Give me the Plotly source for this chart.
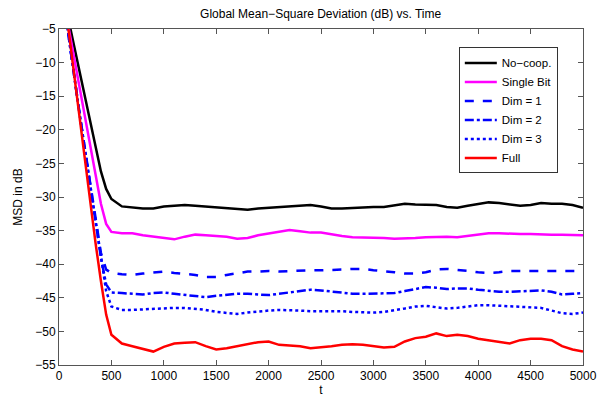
import plotly.graph_objects as go

t_early = [0, 100, 200, 300, 350, 400, 450]
t_flat = list(range(500, 5001, 100))

nocoop_early = [3.0, -4.3, -11.5, -18.8, -22.5, -26.2, -28.8]
nocoop_flat = [-30.3, -31.4, -31.6, -31.7, -31.7, -31.4, -31.3, -31.2, -31.3, -31.4, -31.6, -31.7, -31.8, -31.9,
               -31.7, -31.6, -31.4, -31.3, -31.3, -31.2, -31.4, -31.7, -31.7, -31.6, -31.6, -31.5, -31.5, -31.2,
               -31.0, -31.1, -31.1, -31.2, -31.5, -31.6, -31.3, -31.0, -30.8, -30.9, -31.1, -31.3, -31.2, -30.9,
               -31.0, -31.0, -31.2, -31.6]

single_early = [3.0, -5.4, -14.0, -22.5, -26.8, -31.0, -34.0]
single_flat = [-35.2, -35.4, -35.4, -35.7, -35.9, -36.0, -36.3, -35.9, -35.6, -35.7, -35.8, -35.9, -36.2, -36.1,
               -35.7, -35.4, -35.1, -34.9, -35.1, -35.3, -35.3, -35.6, -35.8, -36.0, -36.0, -36.1, -36.1, -36.2,
               -36.2, -36.1, -36.0, -35.9, -35.9, -36.0, -35.8, -35.6, -35.4, -35.4, -35.5, -35.5, -35.5, -35.6,
               -35.6, -35.6, -35.7, -35.7]

dim1_early = [5.0, -7.0, -18.0, -28.5, -33.5, -38.3, -40.8]
dim1_flat = [-41.3, -41.5, -41.6, -41.4, -41.2, -41.1, -41.3, -41.4, -41.6, -41.9, -41.9, -41.6, -41.3, -41.1,
             -41.1, -41.0, -41.1, -41.0, -40.9, -40.9, -40.9, -40.9, -40.8, -40.7, -40.7, -40.9, -41.0, -41.2,
             -41.4, -41.4, -41.2, -40.8, -40.7, -40.8, -41.0, -41.2, -41.3, -41.2, -41.0, -41.0, -41.0, -41.0,
             -41.0, -40.9, -41.0, -41.0]

dim2_early = [5.0, -7.0, -18.0, -28.5, -33.5, -39.0, -43.0]
dim2_flat = [-44.2, -44.3, -44.4, -44.5, -44.3, -44.2, -44.4, -44.6, -44.7, -44.9, -44.7, -44.5, -44.4, -44.4,
             -44.5, -44.6, -44.4, -44.2, -44.0, -43.8, -43.9, -44.1, -44.3, -44.4, -44.4, -44.4, -44.4, -44.3,
             -44.0, -43.7, -43.4, -43.5, -43.7, -43.6, -43.6, -43.8, -44.0, -44.1, -44.1, -44.0, -43.9, -43.9,
             -44.1, -44.5, -44.4, -44.3]

dim3_early = [5.0, -7.0, -18.0, -28.5, -33.5, -39.0, -44.0]
dim3_flat = [-46.3, -46.8, -46.8, -46.7, -46.7, -46.6, -46.5, -46.5, -46.6, -46.8, -47.1, -47.3, -47.4, -47.2,
             -47.0, -46.9, -46.8, -46.8, -46.9, -47.0, -47.0, -46.9, -47.0, -47.1, -47.2, -47.2, -47.1, -46.9,
             -46.6, -46.3, -46.2, -46.4, -46.6, -46.5, -46.3, -46.1, -46.1, -46.2, -46.3, -46.4, -46.4, -46.5,
             -46.9, -47.3, -47.4, -47.2]

full_early = [6.0, -6.4, -18.6, -30.9, -37.0, -42.5, -47.5]
full_flat = [-50.5, -51.8, -52.2, -52.6, -53.0, -52.3, -51.8, -51.7, -51.6, -52.2, -52.7, -52.5, -52.2, -51.9,
             -51.6, -51.5, -52.0, -52.1, -52.2, -52.5, -52.4, -52.2, -52.0, -51.9, -52.0, -52.2, -52.4, -52.3,
             -51.5, -51.0, -50.8, -50.3, -50.7, -50.5, -50.7, -51.1, -51.3, -51.6, -51.8, -51.3, -51.1, -51.1,
             -51.3, -52.2, -52.7, -53.0]

t_all = t_early + t_flat

series = [
    ("No\u2212coop.", nocoop_early + nocoop_flat, "#000000", "solid"),
    ("Single Bit", single_early + single_flat, "#FF00FF", "solid"),
    ("Dim = 1", dim1_early + dim1_flat, "#0000FF", "dash"),
    ("Dim = 2", dim2_early + dim2_flat, "#0000FF", "dashdot"),
    ("Dim = 3", dim3_early + dim3_flat, "#0000FF", "dot"),
    ("Full", full_early + full_flat, "#FF0000", "solid"),
]

fig = go.Figure()
for name, vals, color, dash in series:
    fig.add_trace(go.Scatter(x=t_all, y=vals, mode="lines", name=name,
                             line=dict(color=color, width=2.5, dash=dash)))

font = "Liberation Sans, Arial, sans-serif"
axis_common = dict(showline=True, linecolor="#555555", linewidth=1, mirror="ticks",
                   ticks="inside", ticklen=5, tickcolor="#555555", showgrid=False, zeroline=False,
                   automargin=False,
                   tickfont=dict(family=font, size=12, color="#000000"))

fig.update_layout(
    width=605, height=399,
    margin=dict(l=59, r=22, t=29, b=34),
    paper_bgcolor="white", plot_bgcolor="white",
    title=dict(text="Global Mean\u2212Square Deviation (dB) vs. Time", x=0.53, xanchor="center",
               y=0.965, yanchor="middle", font=dict(family=font, size=12, color="#000000")),
    xaxis=dict(range=[0, 5000], tickvals=list(range(0, 5001, 500)),
               title=dict(text="t", font=dict(family=font, size=12, color="#000000"), standoff=2),
               **axis_common),
    yaxis=dict(range=[-55, -5], tickvals=list(range(-55, -4, 5)),
               title=dict(text="MSD in dB", font=dict(family=font, size=12, color="#000000"), standoff=10),
               **axis_common),
    legend=dict(x=0.763, y=0.945, xanchor="left", yanchor="top", bgcolor="white",
                bordercolor="#333333", borderwidth=1, font=dict(family=font, size=11.5, color="#000000"),
                itemwidth=32, tracegroupgap=0),
    showlegend=True,
)

fig.write_html("out.html", config={"displayModeBar": False},
               post_script="document.body.style.margin='0';document.body.style.padding='0';")
